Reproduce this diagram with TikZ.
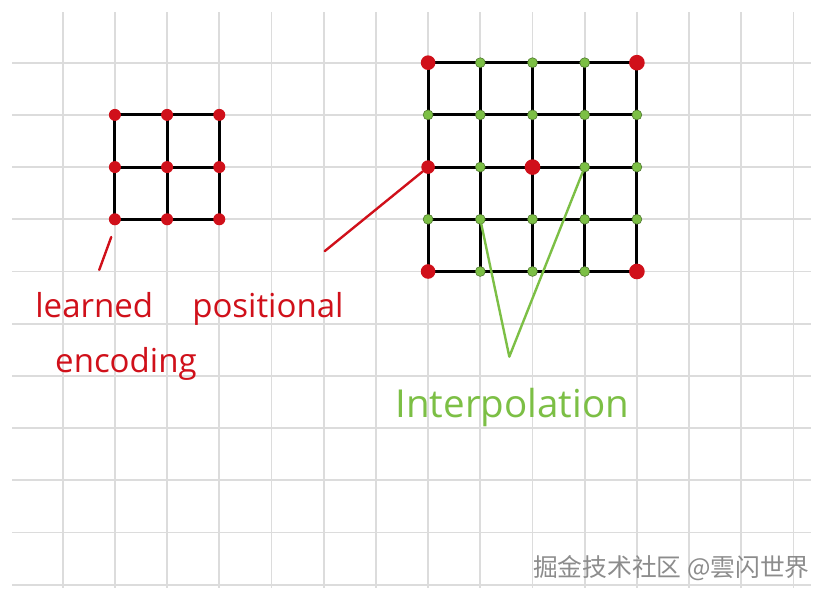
\documentclass[tikz,border=0pt]{standalone}
\usepackage{fontspec}
\setsansfont{Open Sans}
\newfontfamily\cjkfont{Noto Sans CJK SC}
\usetikzlibrary{positioning}
\definecolor{cred}{HTML}{D0101A}
\definecolor{cgreen}{HTML}{7CBF45}
\definecolor{cpaper}{HTML}{DCDCDC}
\definecolor{cmark}{HTML}{8C8C8C}
\tikzset{
  paper/.style={draw=cpaper, line width=1pt},
  mesh/.style={draw=black, line width=1.6pt},
  rdot/.style={circle, fill=cred, inner sep=0pt, minimum size=#1},
  rdot/.default=0.23cm,
  gdot/.style={circle, fill=cgreen, draw=cgreen!60!black, line width=0.3pt, inner sep=0pt, minimum size=0.19cm},
  hand/.style={font=\sffamily\fontsize{18}{30}\selectfont, align=left, inner sep=0pt},
  pen/.style={line width=1.3pt, line cap=round, line join=round},
}
\begin{document}
\begin{tikzpicture}
  \useasboundingbox[fill=white] (-1.201,1.201) rectangle (14.738,-10.312);
  % squared paper
  \foreach \j in {0,...,10} \draw[paper] (-0.97,-\j) -- (14.33,-\j);
  \foreach \i in {0,...,14} \draw[paper] (\i,0.97) -- (\i,-10.06);
  % small grid
  \foreach \i in {1,2,3} \foreach \j in {1,2,3} \coordinate (s-\i-\j) at (\i,-\j);
  \foreach \k in {1,2,3} {
    \draw[mesh] (s-1-\k) -- (s-3-\k);
    \draw[mesh] (s-\k-1) -- (s-\k-3);
  }
  \foreach \i in {1,2,3} \foreach \j in {1,2,3} \node[rdot] (ds-\i-\j) at (s-\i-\j) {};
  % big grid
  \foreach \i in {7,...,11} \foreach \j in {0,...,4} \coordinate (b-\i-\j) at (\i,-\j);
  \foreach \k in {0,...,4} \draw[mesh] (b-7-\k) -- (b-11-\k);
  \foreach \k in {7,...,11} \draw[mesh] (b-\k-0) -- (b-\k-4);
  \foreach \i/\j in {8/0,9/0,10/0,7/1,8/1,9/1,10/1,11/1,8/2,10/2,11/2,7/3,8/3,9/3,10/3,11/3,8/4,9/4,10/4}
    \node[gdot] (db-\i-\j) at (b-\i-\j) {};
  \foreach \i/\j/\s in {7/0/0.28,11/0/0.3,7/2/0.26,9/2/0.3,7/4/0.28,11/4/0.3}
    \node[rdot=\s cm] (dr-\i-\j) at (b-\i-\j) {};
  % labels
  \node[hand, text=cred, anchor=base west] (pe) at (-0.53,-5.94) {learned\hspace{0.75cm}positional\\\hspace{0.38cm}encoding};
  \coordinate (pe-tip) at (5.02,-3.61);
  \draw[pen, cred] (pe-tip) -- (dr-7-2);
  \coordinate (tick-a) at (0.93,-3.34);
  \coordinate (tick-b) at (0.70,-3.97);
  \draw[pen, cred] (tick-a) -- (tick-b);
  \node[hand, font=\sffamily\fontsize{21}{30}\selectfont, text=cgreen, anchor=base west] (interp) at (6.37,-6.79) {Interpolation};
  \coordinate (v-tip) at (8.556,-5.632);
  \draw[pen, cgreen] (db-8-3) -- (v-tip) -- (db-10-2);
  \node[font=\cjkfont\fontsize{13.5}{16}\selectfont, text=cmark] (mark) at (11.66,-9.68) {掘金技术社区 @雲闪世界};
\end{tikzpicture}
\end{document}
